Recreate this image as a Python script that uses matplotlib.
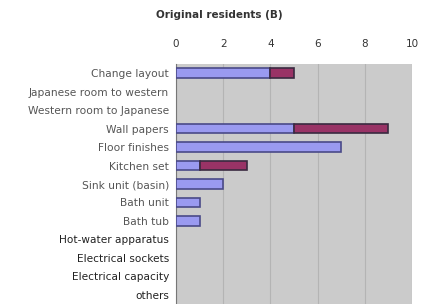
import matplotlib
matplotlib.use("Agg")
import matplotlib.pyplot as plt
import numpy as np

categories = ["Change layout", "Japanese room to western", "Western room to Japanese",
              "Wall papers", "Floor finishes", "Kitchen set", "Sink unit (basin)",
              "Bath unit", "Bath tub", "Hot-water apparatus", "Electrical sockets",
              "Electrical capacity", "others"]
series_a = [4, 0, 0, 5, 7, 1, 2, 1, 1, 0, 0, 0, 0]
series_b = [1, 0, 0, 4, 0, 2, 0, 0, 0, 0, 0, 0, 0]
xticks = [0, 2, 4, 6, 8, 10]
title = "Original residents (B)"

fig = plt.figure(figsize=(4.26, 3.04), dpi=100)
ax = fig.add_axes([176/426, 0.0, 236/426, 1 - 64/304])
ax.set_facecolor("#cbcbcb")

y = np.arange(len(categories))
a = np.array(series_a, dtype=float)
b = np.array(series_b, dtype=float)
h = 0.52
ma = a > 0
mb = b > 0
ax.barh(y[ma], a[ma], height=h, color="#9a9af0", edgecolor="#4a4a88", linewidth=1.2, zorder=3)
ax.barh(y[mb], b[mb], left=a[mb], height=h, color="#993366", edgecolor="#3a2a40", linewidth=1.2, zorder=3)

ax.set_xlim(0, 10)
ax.set_ylim(len(categories) - 0.5, -0.5)
ax.set_xticks(xticks)
ax.xaxis.tick_top()
ax.tick_params(axis="x", length=0, labelsize=7.5, colors="#333333", pad=11)
ax.set_yticks(y)
ax.set_yticklabels(categories)
ax.tick_params(axis="y", length=0, pad=5, colors="#222222")
for i, lab in enumerate(ax.get_yticklabels()):
    lab.set_fontsize(7.7 if i < 9 else 7.6)
    lab.set_color("#555555" if i < 9 else "#222222")
ax.grid(axis="x", color="#b4b4b4", linewidth=0.8, zorder=0)
for s in ["top", "right", "bottom"]:
    ax.spines[s].set_visible(False)
ax.spines["left"].set_color("#777777")

fig.text(219/426, 1 - 15/304, title, ha="center", va="center", fontsize=7.5, fontweight="bold", color="#333333")
fig.savefig("out.png", dpi=100)
